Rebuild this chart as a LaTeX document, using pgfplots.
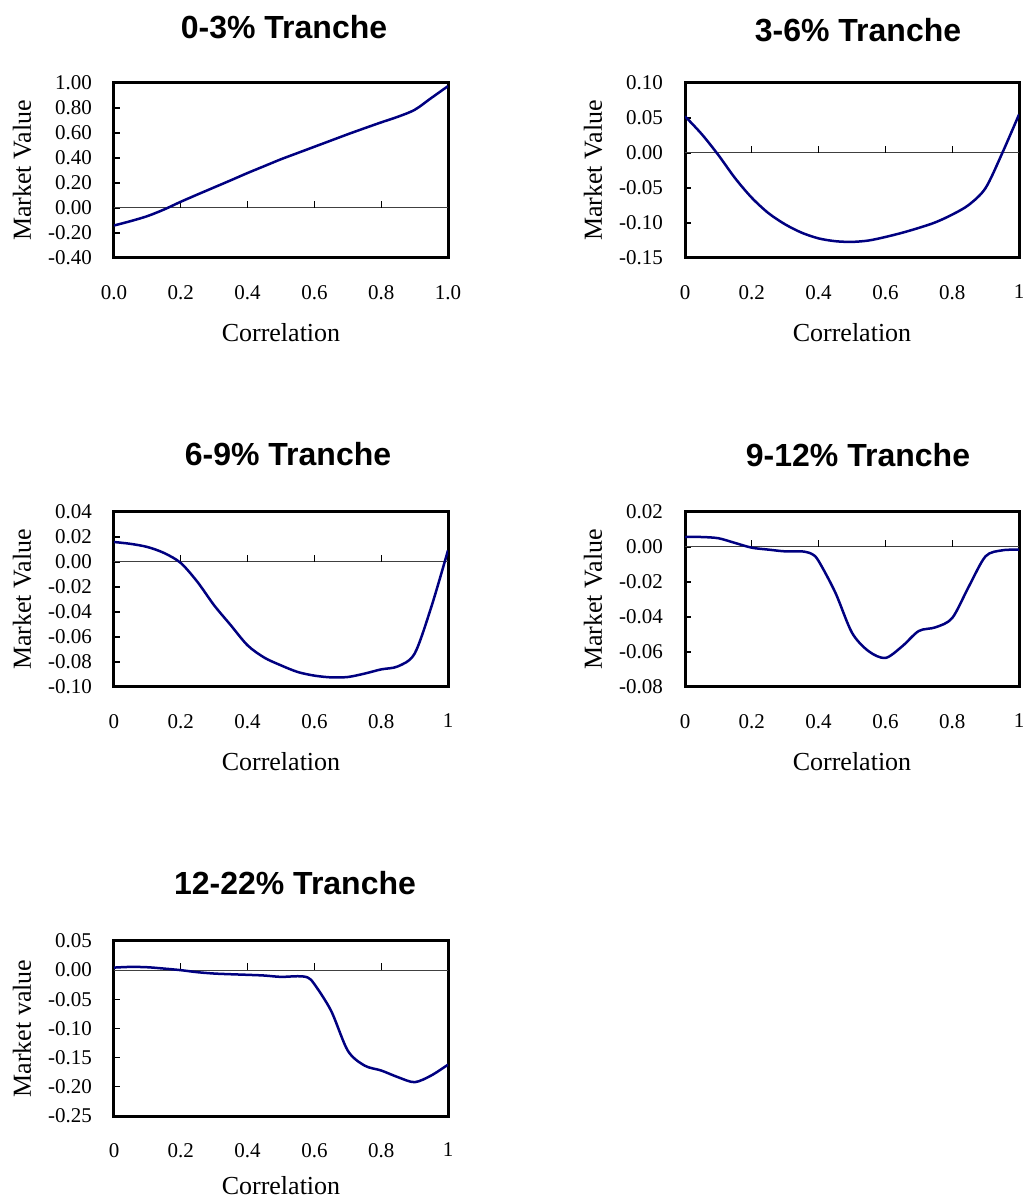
\documentclass[border=0pt]{standalone}
\usepackage{fontspec}
\setmainfont{Liberation Serif}
\newfontfamily\arialfont{Liberation Sans}
\usepackage{pgfplots}
\pgfplotsset{compat=1.18}
\definecolor{navy}{RGB}{0,0,128}
\pgfplotsset{
  tr/.style={
    scale only axis, width=167pt, height=87.5pt,
    xmin=0, xmax=1,
    axis line style={line width=1.5pt},
    xtick={0,0.2,0.4,0.6,0.8,1},
    x tick style={draw=none},
    ytick pos=left,
    ytick align=inside,
    major tick length=3pt,
    scaled y ticks=false,
    y tick style={black, line width=0.6pt},
    tick label style={font=\fontsize{10.5}{12}\selectfont},
    xticklabel style={yshift=-10pt},
    yticklabel style={xshift=-7.5pt},
    xlabel=Correlation,
    xlabel style={at={(axis description cs:0.5,-0.4286)}, anchor=center, font=\fontsize{13}{15}\selectfont},
    ylabel style={at={(axis description cs:-0.2754,0.5)}, anchor=center, font=\fontsize{13}{15}\selectfont},
    title style={at={(axis description cs:0.5,1)}, anchor=center, font=\arialfont\bfseries\fontsize{16}{19}\selectfont},
  },
  curve/.style={navy, line width=1.25pt, smooth}
}
\newcommand\zeroline{%
  \draw[black!75, line width=0.5pt] (axis cs:0,0) -- (axis cs:1,0);
  \pgfplotsinvokeforeach{0.2,0.4,0.6,0.8}{\draw[black,line width=0.6pt] (axis cs:##1,0) -- ([yshift=3.5pt]axis cs:##1,0);}
}
\begin{document}
\begin{tikzpicture}
\useasboundingbox (0,0) rectangle (513pt,600pt);
% 0-3%
\begin{axis}[tr, at={(57pt,471pt)}, anchor=south west,
  title={0-3\% Tranche}, title style={yshift=22pt, xshift=1.5pt},
  ylabel={Market Value},
  ymin=-0.4, ymax=1.0, ytick={-0.4,-0.2,0,0.2,0.4,0.6,0.8,1.0},
  yticklabels={-0.40,-0.20,0.00,0.20,0.40,0.60,0.80,1.00},
  xticklabels={0.0,0.2,0.4,0.6,0.8,1.0}]
\zeroline
\addplot[curve] coordinates {
(0,-0.14) (0.05,-0.105) (0.1,-0.065) (0.15,-0.012) (0.2,0.05) (0.25,0.108) (0.3,0.165) (0.35,0.222) (0.4,0.28) (0.45,0.335) (0.5,0.39) (0.55,0.44) (0.6,0.49) (0.65,0.54) (0.7,0.59) (0.75,0.638) (0.8,0.685) (0.85,0.73) (0.9,0.785) (0.95,0.88) (1.0,0.975)};
\end{axis}
% 3-6%
\begin{axis}[tr, at={(342.5pt,471pt)}, anchor=south west,
  title={3-6\% Tranche}, title style={yshift=20.5pt, xshift=3pt},
  ylabel={Market Value},
  ymin=-0.15, ymax=0.10, ytick={-0.15,-0.1,-0.05,0,0.05,0.1},
  yticklabels={-0.15,-0.10,-0.05,0.00,0.05,0.10},
  xticklabels={0,0.2,0.4,0.6,0.8,1}]
\zeroline
\addplot[curve] coordinates {
(0,0.0524) (0.05,0.027) (0.1,-0.003) (0.15,-0.036) (0.2,-0.064) (0.25,-0.086) (0.3,-0.102) (0.35,-0.114) (0.4,-0.122) (0.45,-0.126) (0.5,-0.127) (0.55,-0.125) (0.6,-0.120) (0.65,-0.114) (0.7,-0.107) (0.75,-0.099) (0.8,-0.088) (0.85,-0.074) (0.9,-0.05) (0.95,0.0) (1.0,0.055)};
\end{axis}
% 6-9%
\begin{axis}[tr, at={(57pt,256.5pt)}, anchor=south west,
  title={6-9\% Tranche}, title style={yshift=23pt, xshift=3.5pt},
  ylabel={Market Value},
  ymin=-0.10, ymax=0.04, ytick={-0.1,-0.08,-0.06,-0.04,-0.02,0,0.02,0.04},
  yticklabels={-0.10,-0.08,-0.06,-0.04,-0.02,0.00,0.02,0.04},
  xticklabels={0,0.2,0.4,0.6,0.8,1}]
\zeroline
\addplot[curve] coordinates {
(0,0.016) (0.05,0.0145) (0.1,0.012) (0.15,0.0072) (0.2,-0.0008) (0.25,-0.016) (0.3,-0.0347) (0.35,-0.0507) (0.4,-0.0667) (0.45,-0.0765) (0.5,-0.0827) (0.55,-0.088) (0.6,-0.0909) (0.65,-0.0923) (0.7,-0.092) (0.75,-0.0893) (0.8,-0.0859) (0.85,-0.0835) (0.9,-0.0733) (0.95,-0.036) (1.0,0.0093)};
\end{axis}
% 9-12%
\begin{axis}[tr, at={(342.5pt,256.5pt)}, anchor=south west,
  title={9-12\% Tranche}, title style={yshift=22.5pt, xshift=3pt},
  ylabel={Market Value},
  ymin=-0.08, ymax=0.02, ytick={-0.08,-0.06,-0.04,-0.02,0,0.02},
  yticklabels={-0.08,-0.06,-0.04,-0.02,0.00,0.02},
  xticklabels={0,0.2,0.4,0.6,0.8,1}]
\zeroline
\addplot[curve] coordinates {
(0,0.0057) (0.05,0.0057) (0.1,0.005) (0.15,0.0023) (0.2,-0.0004) (0.25,-0.0015) (0.3,-0.0025) (0.35,-0.0025) (0.38,-0.004) (0.4,-0.008) (0.45,-0.026) (0.5,-0.049) (0.55,-0.0596) (0.6,-0.0634) (0.65,-0.0568) (0.7,-0.048) (0.75,-0.0459) (0.8,-0.0406) (0.85,-0.0225) (0.9,-0.0053) (0.95,-0.0019) (1.0,-0.0015)};
\end{axis}
% 12-22%
\begin{axis}[tr, at={(57pt,42pt)}, anchor=south west,
  title={12-22\% Tranche}, title style={yshift=23pt, xshift=7pt},
  ylabel={Market value},
  xlabel style={at={(axis description cs:0.5,-0.40)}},
  ymin=-0.25, ymax=0.05, ytick={-0.25,-0.2,-0.15,-0.1,-0.05,0,0.05},
  yticklabels={-0.25,-0.20,-0.15,-0.10,-0.05,0.00,0.05},
  xticklabels={0,0.2,0.4,0.6,0.8,1}]
\zeroline
\addplot[curve] coordinates {
(0,0.0044) (0.05,0.0056) (0.1,0.005) (0.15,0.0027) (0.2,0.0) (0.25,-0.0035) (0.3,-0.0058) (0.35,-0.007) (0.4,-0.008) (0.45,-0.0092) (0.5,-0.0115) (0.55,-0.0104) (0.58,-0.0126) (0.6,-0.024) (0.65,-0.0696) (0.7,-0.138) (0.75,-0.1635) (0.8,-0.172) (0.85,-0.1834) (0.9,-0.192) (0.95,-0.1805) (1.0,-0.162)};
\end{axis}
\end{tikzpicture}
\end{document}
